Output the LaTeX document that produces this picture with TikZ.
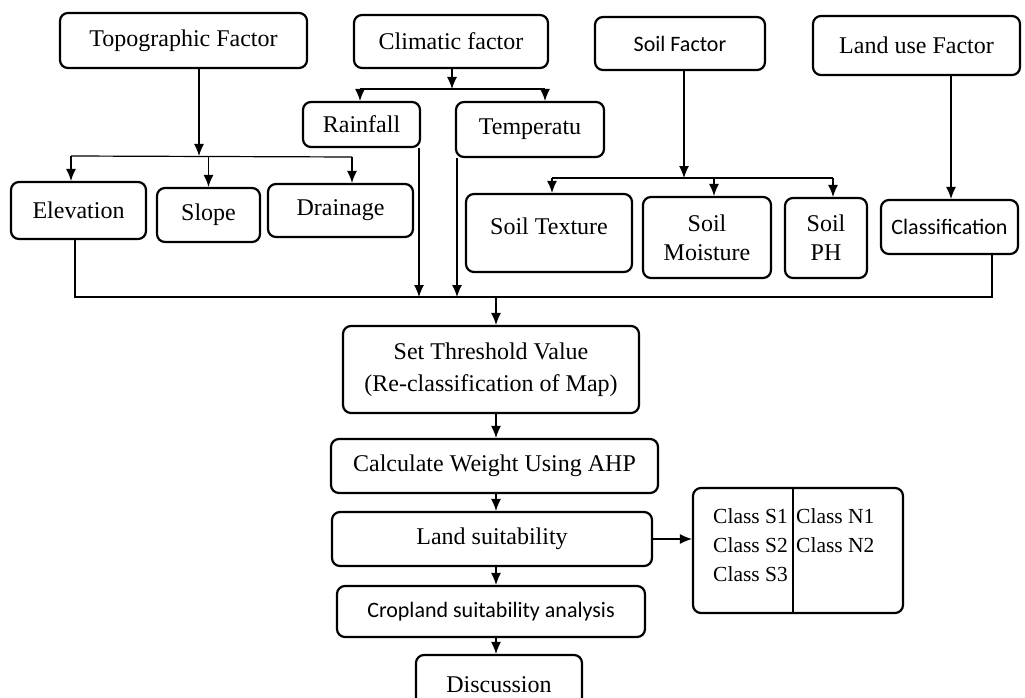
\documentclass[tikz,border=0pt]{standalone}
\usepackage{fontspec}
\setmainfont{Liberation Serif}
\newfontfamily\calib{Carlito}
\usetikzlibrary{arrows.meta}

\tikzset{
	box/.style={draw, line width=2.2pt, rounded corners=8pt, align=center, inner sep=0pt, font=\fontsize{24}{29}\selectfont},
	cbox/.style={box, font=\calib\fontsize{22}{26}\selectfont},
	arr/.style={-{Latex[length=12pt,width=10pt]}, line width=1.2pt},
	ln/.style={line width=1.2pt},
	cls/.style={anchor=base west, inner sep=0pt, font=\fontsize{21.5}{26}\selectfont}
}

\begin{document}
\begin{tikzpicture}[x=1pt,y=-1pt]
	\useasboundingbox (0,0) rectangle (1025,698);

	%FACTORS
	\node[box, minimum width=247pt, minimum height=55pt] (topo) at (183.5,40.5) {Topographic Factor};
	\node[box, minimum width=194pt, minimum height=53pt] (clim) at (451,41.5) {Climatic factor};
	\node[cbox, minimum width=170pt, minimum height=53pt] (soil) at (680,43.5) {Soil Factor};
	\node[box, minimum width=207pt, minimum height=59pt] (landuse) at (916.5,45.5) {Land use Factor};

	\node[box, minimum width=117pt, minimum height=45pt] (rain) at (361.5,124.5) {Rainfall};
	\node[box, minimum width=148pt, minimum height=55pt] (temp) at (530,129.5) {Temperatu};

	\node[box, minimum width=135pt, minimum height=57pt] (elev) at (78.5,210.5) {Elevation};
	\node[box, minimum width=103pt, minimum height=54pt] (slope) at (208.5,215) {Slope};
	\node[box, minimum width=145pt, minimum height=53pt] (drain) at (340.5,210.5) {Drainage};
	\node[box, minimum width=166pt, minimum height=78pt] (texture) at (549,233) {Soil Texture\\[-15pt]\mbox{}};
	\node[box, minimum width=128pt, minimum height=81pt] (moist) at (707,237.5) {Soil\\Moisture};
	\node[box, minimum width=82pt, minimum height=80pt] (ph) at (826,238) {Soil\\PH};
	\node[cbox, minimum width=137pt, minimum height=54pt] (classif) at (949.5,227) {Classification};

	%MAIN CHAIN
	\node[box, minimum width=296pt, minimum height=87pt] (thresh) at (491,369.5) {Set Threshold Value\\[3pt](Re-classification of Map)};
	\node[box, minimum width=327pt, minimum height=54pt] (calc) at (494.5,466) {Calculate Weight Using AHP};
	\node[box, minimum width=320pt, minimum height=54pt] (landsuit) at (492,539) {Land suitability};
	\node[cbox, minimum width=308pt, minimum height=51pt] (crop) at (491,611.5) {Cropland suitability analysis};
	\node[box, minimum width=166pt, minimum height=60pt] (disc) at (499,685) {Discussion};

	\node[box, minimum width=210pt, minimum height=125pt] (classes) at (798,550.5) {};
	\node[cls] (s1) at (713,523) {Class S1};
	\node[cls] (s2) at (713,552) {Class S2};
	\node[cls] (s3) at (713,581) {Class S3};
	\node[cls] (n1) at (796,523) {Class N1};
	\node[cls] (n2) at (796,552) {Class N2};
	\coordinate (dv) at (793,0);
	\draw[ln] (classes.north -| dv) -- (classes.south -| dv);

	%topographic branch
	\coordinate (tb) at (199,156);
	\coordinate (tl) at (71,156);
	\coordinate (tr) at (352,157);
	\draw[arr] (topo.south -| tb) -- (tb);
	\draw[ln] (tl) -- (tr);
	\draw[arr] (tl) -- (tl |- elev.north);
	\draw[arr] (slope.north |- tb) -- (slope.north);
	\draw[arr] (tr) -- (tr |- drain.north);

	%climatic branch
	\coordinate (cb) at (452,89);
	\coordinate (cl) at (360,89);
	\coordinate (cr) at (545,89);
	\draw[arr] (clim.south -| cb) -- (cb);
	\draw[ln] (cl) -- (cr);
	\draw[arr] (cl) -- (cl |- rain.north);
	\draw[arr] (cr) -- (cr |- temp.north);

	%soil branch
	\coordinate (sb) at (684,178);
	\coordinate (sl) at (552,178);
	\coordinate (sm) at (714,178);
	\coordinate (sr) at (833,178);
	\draw[arr] (soil.south -| sb) -- (sb);
	\draw[ln] (sl) -- (sr);
	\draw[arr] (sl) -- (sl |- texture.north);
	\draw[arr] (sm) -- (sm |- moist.north);
	\draw[arr] (sr) -- (sr |- ph.north);

	%land use branch
	\coordinate (lu) at (951,0);
	\draw[arr] (landuse.south -| lu) -- (classif.north -| lu);

	%COLLECTOR
	\coordinate (bl) at (75,297);
	\coordinate (br) at (992,297);
	\coordinate (bm) at (496,297);
	\coordinate (rl) at (419,297);
	\coordinate (tp) at (457,297);
	\draw[ln] (elev.south -| bl) -- (bl) -- (br) -- (classif.south -| br);
	\draw[arr] (rain.south -| rl) -- (rl);
	\draw[arr] (temp.south -| tp) -- (tp);
	\draw[arr] (bm) -- (bm |- thresh.north);

	\draw[arr] (thresh.south -| bm) -- (calc.north -| bm);
	\draw[arr] (calc.south -| bm) -- (landsuit.north -| bm);
	\draw[arr] (landsuit.south -| bm) -- (crop.north -| bm);
	\draw[arr] (crop.south -| bm) -- (disc.north -| bm);
	\draw[arr] (landsuit.east) -- (classes.west |- landsuit.east);
\end{tikzpicture}
\end{document}
